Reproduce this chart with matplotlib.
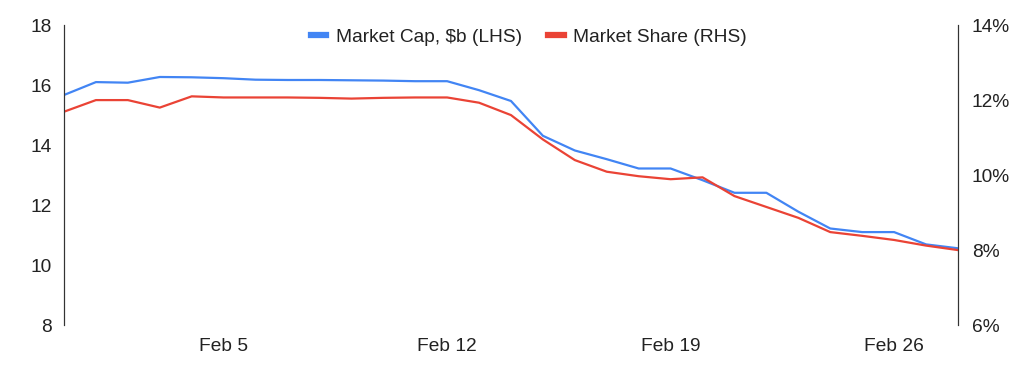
import numpy as np
import pandas as pd
import matplotlib
matplotlib.use("Agg")
import matplotlib.pyplot as plt
from matplotlib.ticker import FuncFormatter

plt.rcParams['font.family'] = ['Liberation Sans', 'DejaVu Sans']

dates = pd.date_range("2024-01-31", "2024-02-28", freq="D")
market_cap = [15.67, 16.10, 16.08, 16.27, 16.26, 16.23, 16.18, 16.17, 16.17, 16.16,
              16.15, 16.13, 16.13, 15.83, 15.47, 14.31, 13.82, 13.53, 13.22, 13.22,
              12.83, 12.41, 12.41, 11.78, 11.22, 11.10, 11.10, 10.69, 10.56]
market_share = [11.69, 12.00, 12.00, 11.80, 12.10, 12.07, 12.07, 12.07, 12.06, 12.04,
                12.06, 12.07, 12.07, 11.93, 11.60, 10.95, 10.40, 10.09, 9.97, 9.89,
                9.94, 9.44, 9.15, 8.86, 8.48, 8.38, 8.27, 8.12, 8.00]
tick_dates = pd.to_datetime(["2024-02-05", "2024-02-12", "2024-02-19", "2024-02-26"])

blue = "#4285F4"
red = "#EA4335"
txt = "#222222"
fs = 13.8

fig = plt.figure(figsize=(10.24, 3.69), dpi=100)
ax = fig.add_axes([0.0625, 0.119, 0.873, 0.813])
ax2 = ax.twinx()

l1, = ax.plot(dates, market_cap, color=blue, lw=1.6, label="Market Cap, $b (LHS)")
l2, = ax2.plot(dates, market_share, color=red, lw=1.6, label="Market Share (RHS)")

ax.set_xlim(dates[0], dates[-1])
ax.set_ylim(8, 18)
ax.set_yticks(np.arange(8, 19, 2))
ax2.set_ylim(6, 14)
ax2.set_yticks(np.arange(6, 15, 2))
ax2.yaxis.set_major_formatter(FuncFormatter(lambda v, p: f"{v:.0f}%"))

ax.set_xticks(tick_dates)
ax.set_xticklabels([f"{d:%b} {d.day}" for d in tick_dates])

for a in (ax, ax2):
    for s in ("top", "bottom"):
        a.spines[s].set_visible(False)
    a.spines["left"].set_color("#333333")
    a.spines["right"].set_color("#333333")
    a.spines["left"].set_linewidth(0.8)
    a.spines["right"].set_linewidth(0.8)
    a.tick_params(length=0, labelsize=fs, colors=txt)
ax.tick_params(axis="y", pad=9)
ax2.tick_params(axis="y", pad=10)
ax.tick_params(axis="x", pad=9)

leg = ax.legend(handles=[l1, l2], loc="center", bbox_to_anchor=(0.52, 0.96),
                ncol=2, frameon=False, fontsize=fs, handlelength=0.8,
                handletextpad=0.5, columnspacing=1.4)
for h in leg.legend_handles:
    h.set_linewidth(4.5)
for t in leg.get_texts():
    t.set_color(txt)

fig.savefig("out.png", dpi=100)
